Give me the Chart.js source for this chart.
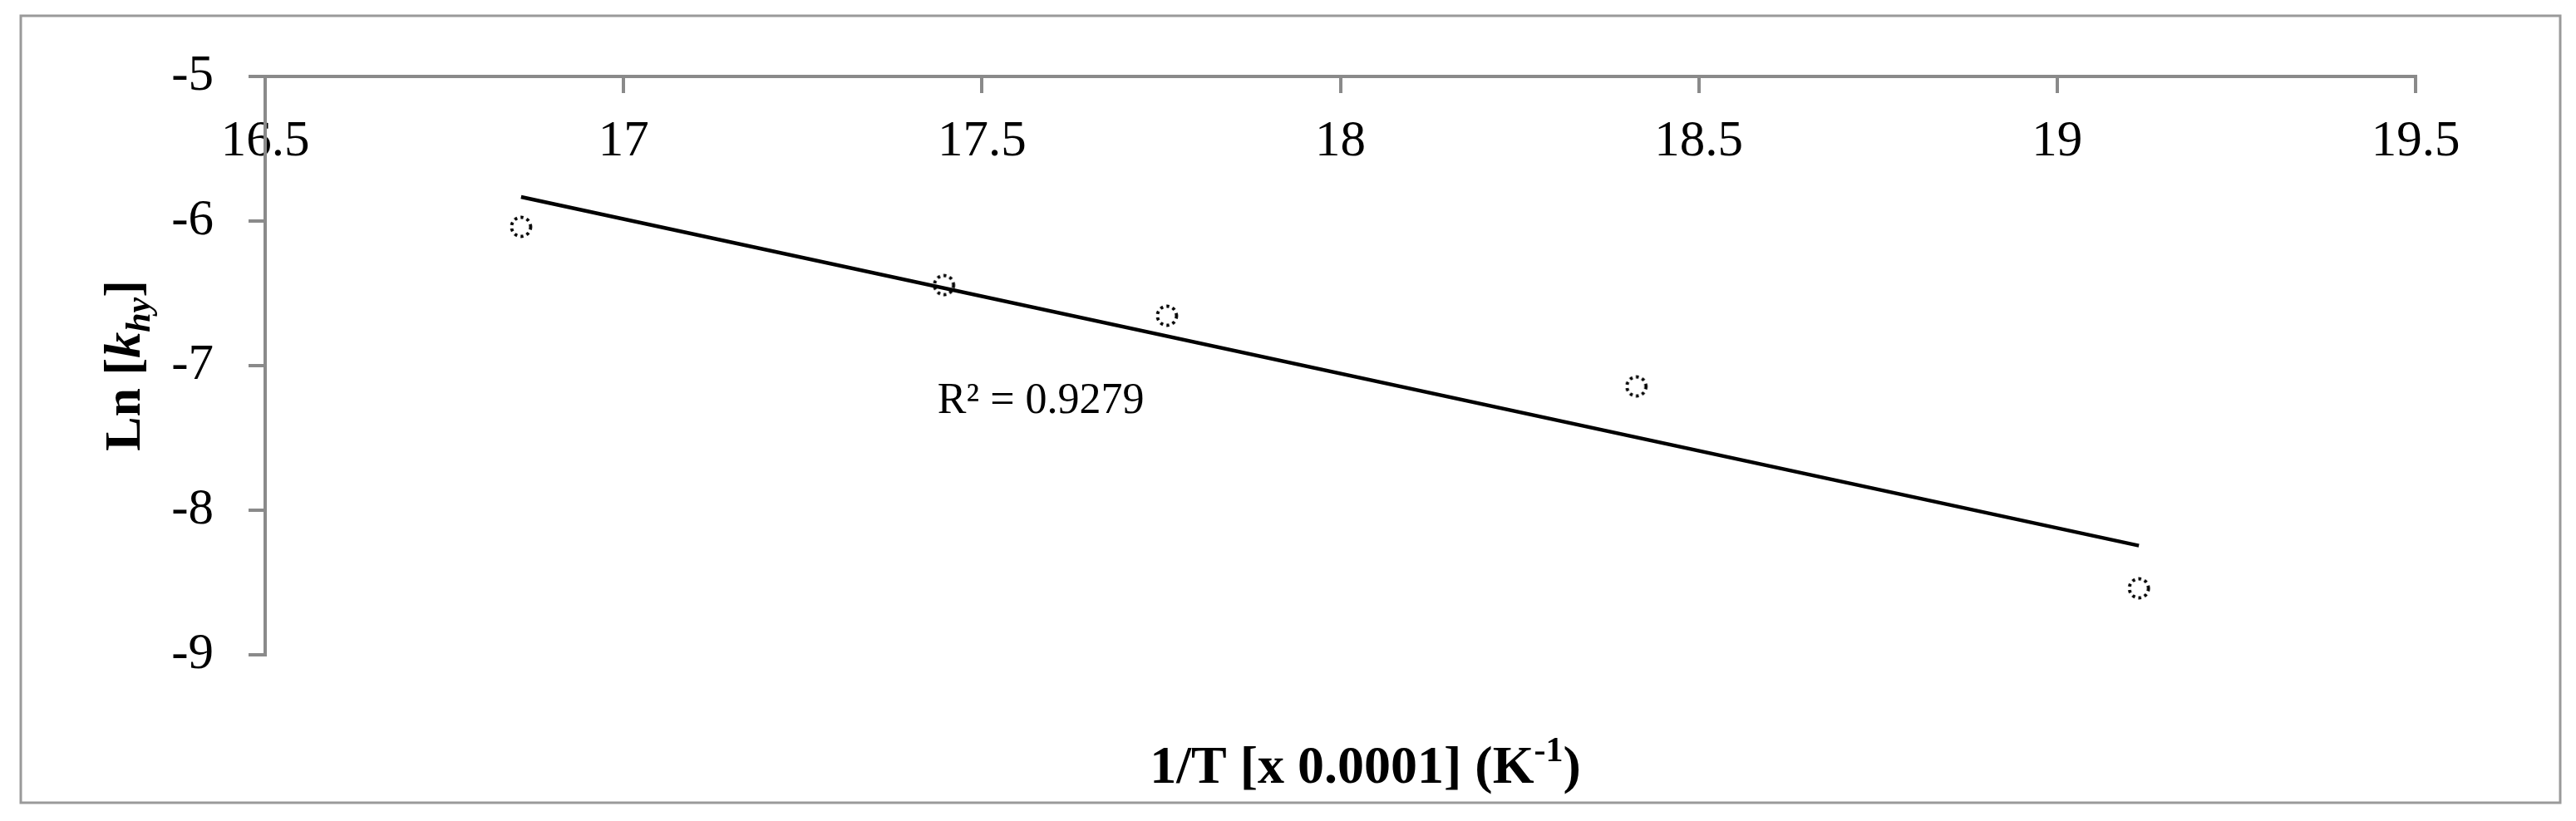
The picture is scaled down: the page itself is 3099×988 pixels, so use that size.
<!DOCTYPE html>
<html>
<head>
<meta charset="utf-8">
<script src="https://cdn.jsdelivr.net/npm/chart.js@4.4.1/dist/chart.umd.min.js"></script>
<style>
  html, body { margin: 0; padding: 0; background: #fff; }
  #wrap { width: 3099px; height: 988px; position: relative; }
</style>
</head>
<body>
<div id="wrap"><canvas id="myChart"></canvas></div>
<script>
// 1/T [x 0.0001] and Ln[k_hy]
const invT = [16.857, 17.447, 17.758, 18.413, 19.114];
const lnK = [-6.04, -6.443, -6.655, -7.144, -8.54];
// linear trend line end points (as drawn in the picture)
const trendX = [16.857, 19.114];
const trendY = [-5.833, -8.245];
const xTicks = [16.5, 17, 17.5, 18, 18.5, 19, 19.5];
const yTicks = [-5, -6, -7, -8, -9];
const rSquaredText = 'R\u00B2 = 0.9279';

const axisGray = '#8a8a8a';
const serif = '"Liberation Serif", "Times New Roman", serif';

Chart.defaults.font.family = serif;
Chart.defaults.color = '#000';

// dotted ring used as the marker glyph
function dottedRing() {
    const c = document.createElement('canvas');
    c.width = 34;
    c.height = 34;
    const g = c.getContext('2d');
    g.strokeStyle = '#000';
    g.lineWidth = 3.8;
    g.setLineDash([3.4, 4.2]);
    g.beginPath();
    g.arc(17, 17, 11.5, 0, Math.PI * 2);
    g.stroke();
    return c;
}

function richText(ctx, parts, cx, baseline) {
    let total = 0;
    parts.forEach(p => {
        ctx.font = p.font;
        p.w = ctx.measureText(p.text).width;
        total += p.w;
    });
    let x = cx - total / 2;
    ctx.textAlign = 'left';
    ctx.textBaseline = 'alphabetic';
    parts.forEach(p => {
        ctx.font = p.font;
        ctx.fillText(p.text, x, baseline + (p.dy || 0));
        x += p.w;
    });
}

const frame = {
    id: 'frame',
    beforeDraw: (chart) => {
        const { ctx, width, height } = chart;
        ctx.save();
        ctx.fillStyle = '#fff';
        ctx.fillRect(0, 0, width, height);
        ctx.strokeStyle = '#9a9a9a';
        ctx.lineWidth = 3;
        ctx.strokeRect(25, 19, 3055, 947);
        ctx.restore();
    }
};

const labels = {
    id: 'labels',
    afterDraw: (chart) => {
        const { ctx, chartArea: { top, bottom, left, right }, scales: { x, y } } = chart;
        ctx.save();
        ctx.fillStyle = '#000';

        // x axis title, sits under the plot
        const bold = 'bold 64px ' + serif;
        richText(ctx, [
            { text: '1/T [x 0.0001] (K', font: bold },
            { text: '-1', font: 'bold 42px ' + serif, dy: -26 },
            { text: ')', font: bold }
        ], (left + right) / 2 + 30, 942);

        // y axis title, rotated
        const boldY = 'bold 62px ' + serif;
        ctx.save();
        ctx.translate(168, (top + bottom) / 2);
        ctx.rotate(-Math.PI / 2);
        richText(ctx, [
            { text: 'Ln [', font: boldY },
            { text: 'k', font: 'italic bold 62px ' + serif },
            { text: 'hy', font: 'italic bold 42px ' + serif, dy: 12 },
            { text: ']', font: boldY }
        ], 0, 0);
        ctx.restore();

        // trend line R² label
        ctx.font = '52px ' + serif;
        ctx.textAlign = 'left';
        ctx.textBaseline = 'middle';
        ctx.fillText(rSquaredText, x.getPixelForValue(17.438), y.getPixelForValue(-7.25));
        ctx.restore();
    }
};

new Chart(document.getElementById('myChart'), {
    type: 'scatter',
    data: {
        datasets: [
            {
                type: 'line',
                label: 'Linear trend',
                data: trendX.map((v, i) => ({ x: v, y: trendY[i] })),
                borderColor: '#000',
                borderWidth: 4.5,
                pointRadius: 0,
                fill: false,
                order: 2
            },
            {
                label: 'Ln k',
                data: invT.map((v, i) => ({ x: v, y: lnK[i] })),
                pointStyle: dottedRing(),
                pointRadius: 12,
                order: 1
            }
        ]
    },
    plugins: [frame, labels],
    options: {
        responsive: true,
        maintainAspectRatio: false,
        animation: false,
        events: [],
        layout: { padding: { left: 0, top: 0, right: 193, bottom: 200 } },
        plugins: {
            legend: { display: false },
            tooltip: { enabled: false }
        },
        scales: {
            x: {
                type: 'linear',
                position: 'top',
                min: 16.5,
                max: 19.5,
                afterBuildTicks: (s) => { s.ticks = xTicks.map(v => ({ value: v })); },
                afterFit: (s) => { s.height = 92; },
                grid: { drawOnChartArea: false, tickLength: -20, color: axisGray, lineWidth: 4 },
                border: { color: axisGray, width: 4 },
                ticks: {
                    mirror: true,
                    padding: 42,
                    font: { size: 61 },
                    maxRotation: 0,
                    autoSkip: false,
                    callback: (v) => String(v)
                }
            },
            y: {
                type: 'linear',
                position: 'left',
                min: -9,
                max: -5,
                afterBuildTicks: (s) => { s.ticks = yTicks.map(v => ({ value: v })); },
                afterFit: (s) => { s.width = 319; },
                grid: { drawOnChartArea: false, tickLength: 20, color: axisGray, lineWidth: 4 },
                border: { color: axisGray, width: 4 },
                ticks: {
                    padding: 42,
                    font: { size: 61 },
                    autoSkip: false,
                    callback: (v) => String(v)
                }
            }
        }
    }
});
</script>
</body>
</html>
